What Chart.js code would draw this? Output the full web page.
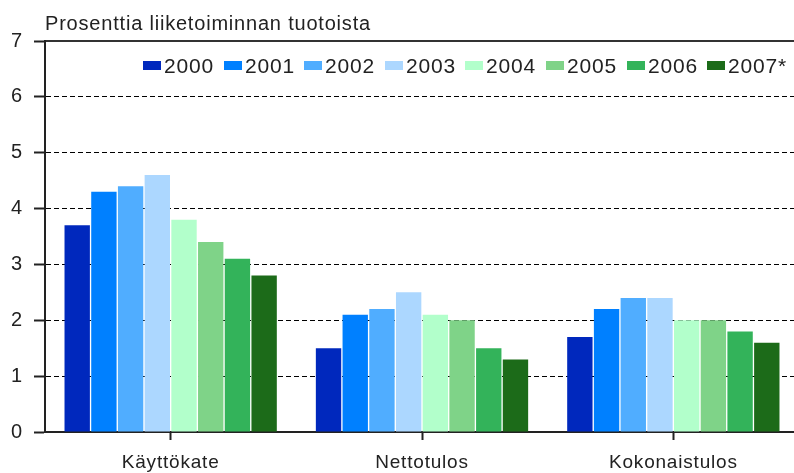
<!DOCTYPE html>
<html>
<head>
<meta charset="utf-8">
<script src="https://cdn.jsdelivr.net/npm/chart.js@4/dist/chart.umd.min.js"></script>
<style>
html,body{margin:0;padding:0;background:#fff;overflow:hidden;}
#wrap{width:799px;height:473px;position:relative;}
</style>
</head>
<body>
<div id="wrap"><canvas id="c" width="799" height="473"></canvas></div>
<script>
const categories = ['Käyttökate', 'Nettotulos', 'Kokonaistulos'];
const years = ['2000', '2001', '2002', '2003', '2004', '2005', '2006', '2007*'];
const v2000 = [3.7, 1.5, 1.7];
const v2001 = [4.3, 2.1, 2.2];
const v2002 = [4.4, 2.2, 2.4];
const v2003 = [4.6, 2.5, 2.4];
const v2004 = [3.8, 2.1, 2.0];
const v2005 = [3.4, 2.0, 2.0];
const v2006 = [3.1, 1.5, 1.8];
const v2007 = [2.8, 1.3, 1.6];
const yTicks = [0, 1, 2, 3, 4, 5, 6, 7];
const axisTitle = 'Prosenttia liiketoiminnan tuotoista';

const seriesValues = [v2000, v2001, v2002, v2003, v2004, v2005, v2006, v2007];
const colors = ['#0028bd', '#0080ff', '#50adff', '#acd7ff', '#b2ffcb', '#7fd388', '#33b35a', '#1c6b19'];

const FONT = 'Liberation Sans';

const spacingPlugin = {
  id: 'spacing',
  beforeDraw(chart) { chart.ctx.letterSpacing = '0.8px'; }
};

const insideLegend = {
  id: 'insideLegend',
  afterDraw(chart) {
    const ctx = chart.ctx;
    const area = chart.chartArea;
    ctx.save();
    ctx.font = '21px "' + FONT + '"';
    ctx.letterSpacing = '0.8px';
    ctx.textBaseline = 'alphabetic';
    ctx.textAlign = 'left';
    chart.data.datasets.forEach((d, i) => {
      const x = area.left + 98 + 80.6 * i;
      const y = area.top + 20;
      ctx.fillStyle = d.backgroundColor;
      ctx.fillRect(Math.round(x), y, 18, 9);
      ctx.fillStyle = '#222';
      ctx.fillText(d.label, Math.round(x) + 21, y + 12);
    });
    ctx.restore();
  }
};

new Chart(document.getElementById('c'), {
  type: 'bar',
  data: {
    labels: categories,
    datasets: years.map((y, i) => ({
      label: y,
      data: seriesValues[i],
      backgroundColor: colors[i],
      borderWidth: 0,
      barPercentage: 0.95,
      categoryPercentage: 0.85
    }))
  },
  plugins: [spacingPlugin, insideLegend],
  options: {
    responsive: false,
    animation: false,
    devicePixelRatio: 1,
    layout: { padding: 0 },
    plugins: {
      tooltip: { enabled: false },
      title: { display: false },
      legend: { display: false }
    },
    scales: {
      x: {
        position: 'bottom',
        grid: {
          offset: false,
          drawOnChartArea: false,
          drawTicks: true,
          tickLength: 8,
          tickColor: '#222',
          tickWidth: 2
        },
        border: { display: true, color: '#222', width: 2 },
        ticks: {
          color: '#222',
          padding: 11,
          font: { family: FONT, size: 19 },
          maxRotation: 0
        },
        afterFit: (s) => { s.height = 41; }
      },
      x2: {
        position: 'top',
        type: 'category',
        labels: categories,
        grid: { display: false, drawTicks: false },
        border: { display: true, color: '#333', width: 2 },
        ticks: { display: false },
        title: {
          display: true,
          text: axisTitle,
          align: 'start',
          color: '#222',
          font: { family: FONT, size: 20 },
          padding: { top: 12, bottom: 4 }
        },
        afterFit: (s) => { s.height = 41; }
      },
      y: {
        min: 0,
        max: 7,
        afterBuildTicks: (s) => { s.ticks = yTicks.map(v => ({ value: v })); },
        grid: {
          color: '#000',
          lineWidth: 1,
          drawTicks: true,
          tickLength: 11,
          tickColor: '#222',
          tickWidth: 2,
          tickBorderDash: []
        },
        border: { display: true, color: '#222', width: 2, dash: [5, 3] },
        ticks: {
          color: '#222',
          padding: 11,
          font: { family: FONT, size: 20 }
        },
        afterFit: (s) => { s.width = 45; }
      }
    }
  }
});
</script>
</body>
</html>
